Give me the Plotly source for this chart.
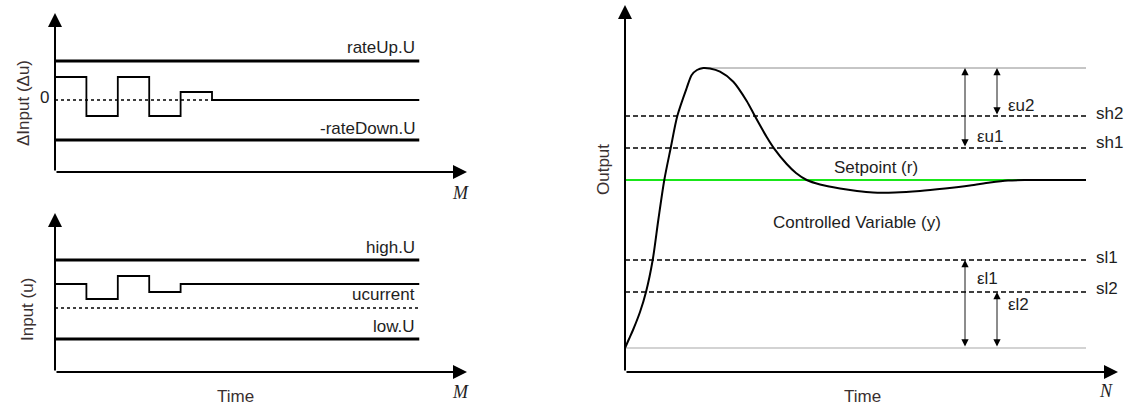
import plotly.graph_objects as go

W, H = 1124, 407

# ---------------- Panel 1: ΔInput (Δu) vs M ----------------
m_steps = [0, 1, 2, 3, 4, 5, 11.6]
du_values = [2.3, -1.6, 2.3, -1.6, 0.8, 0, 0]
rate_up = 3.9
rate_down_neg = -4.0
m_end = 11.6
m_dotted_end = 5
m_axis_max = 13.12
du_range = [-7.2, 8.7]

# ---------------- Panel 2: Input (u) vs M ----------------
u_steps = [0, 1, 2, 3, 4, 11.6]
u_values = [8.8, 7.3, 9.6, 8.0, 8.8, 8.8]
high_u = 11.2
low_u = 3.3
u_current = 6.4
u_range = [0, 15.9]

# ---------------- Panel 3: Output vs N ----------------
t_curve = [0.0, 0.4, 0.8, 1.5, 2.1, 2.77, 3.33, 3.93, 4.57, 5.23, 6.17, 6.67, 7.2, 7.83,
           8.5, 9.5, 10.83, 12.17, 13.0, 14.17, 14.9, 16.17, 17.1, 18.17, 19.5, 21.5,
           23.2, 24.8, 27.0, 29.5, 32.0, 34.5, 36.5, 38.3, 40.0, 46.1]
y_curve = [2.4, 3.3, 4.2, 6.0, 8.0, 11.2, 15.2, 19.2, 22.4, 25.6, 28.4, 29.7, 30.2, 30.4,
           30.35, 30.03, 29.03, 27.1, 25.57, 23.5, 22.37, 20.8, 19.9, 19.2, 18.75, 18.35,
           18.1, 17.95, 17.95, 18.1, 18.35, 18.65, 18.95, 19.15, 19.2, 19.2]
t_end = 46.1
t_peak = 7.8
y_peak = 30.4
y_start = 2.4
setpoint = 19.2
sh2, sh1, sl1, sl2 = 25.6, 22.4, 11.2, 8.0
t_arrow1, t_arrow2 = 34.0, 37.2
t_axis_max = 49.3
out_range = [0, 36.7]


def px(x):
    return x / W


def py(y):
    return 1 - y / H


TXT = dict(family="Liberation Sans, Arial, sans-serif", size=17, color="#1e1e1e")
TITLE = dict(family="Liberation Sans, Arial, sans-serif", size=17, color="#3a3030")
ITAL = dict(family="Liberation Serif, DejaVu Serif, serif", size=18, color="#1e1e1e")

fig = go.Figure()


def hline(x0, x1, y, xa, ya, color="black", width=3, dash="solid"):
    fig.add_trace(go.Scatter(x=[x0, x1], y=[y, y], mode="lines", xaxis=xa, yaxis=ya,
                             line=dict(color=color, width=width, dash=dash),
                             hoverinfo="skip", showlegend=False))


# Panel 1
hline(0, m_end, rate_up, "x", "y")
hline(0, m_end, rate_down_neg, "x", "y")
hline(0, m_dotted_end, 0, "x", "y", width=1.5, dash="dot")
fig.add_trace(go.Scatter(x=m_steps, y=du_values, mode="lines", line_shape="hv",
                         line=dict(color="black", width=1.8), xaxis="x", yaxis="y",
                         hoverinfo="skip", showlegend=False))

# Panel 2
hline(0, m_end, high_u, "x2", "y2")
hline(0, m_end, low_u, "x2", "y2")
hline(0, m_end, u_current, "x2", "y2", width=1.5, dash="dot")
fig.add_trace(go.Scatter(x=u_steps, y=u_values, mode="lines", line_shape="hv",
                         line=dict(color="black", width=1.8), xaxis="x2", yaxis="y2",
                         hoverinfo="skip", showlegend=False))

# Panel 3
hline(t_peak, t_end, y_peak, "x3", "y3", color="#8c8c8c", width=1)
hline(0, t_end, y_start, "x3", "y3", color="#a8a8a8", width=1.2)
for lvl in (sh2, sh1, sl1, sl2):
    hline(0, t_end, lvl, "x3", "y3", width=1.6, dash="5px,3px")
hline(0, t_end, setpoint, "x3", "y3", color="#19e619", width=1.8)
fig.add_trace(go.Scatter(x=t_curve, y=y_curve, mode="lines", line_shape="spline",
                         line=dict(color="black", width=2, smoothing=0.8),
                         xaxis="x3", yaxis="y3", hoverinfo="skip", showlegend=False))

ann = []


def axis_arrow(xr, yr, x, y, ax, ay):
    ann.append(dict(xref=xr, yref=yr, axref=xr, ayref=yr, x=x, y=y, ax=ax, ay=ay,
                    text="", showarrow=True, arrowhead=2, arrowsize=1.4,
                    arrowwidth=2, arrowcolor="black", standoff=0))


axis_arrow("x", "y", 0, du_range[1], 0, du_range[0])
axis_arrow("x", "y", m_axis_max, du_range[0], 0, du_range[0])
axis_arrow("x2", "y2", 0, u_range[1], 0, u_range[0])
axis_arrow("x2", "y2", m_axis_max, u_range[0], 0, u_range[0])
axis_arrow("x3", "y3", 0, out_range[1], 0, out_range[0])
axis_arrow("x3", "y3", t_axis_max, out_range[0], 0, out_range[0])


def dbl_arrow(t, y0, y1):
    ann.append(dict(xref="x3", yref="y3", axref="x3", ayref="y3", x=t, y=y1, ax=t, ay=y0,
                    text="", showarrow=True, arrowhead=2, arrowside="end+start",
                    arrowsize=1.6, arrowwidth=0.9, arrowcolor="black", standoff=0,
                    startstandoff=0))


dbl_arrow(t_arrow1, sh1, y_peak)
dbl_arrow(t_arrow2, sh2, y_peak)
dbl_arrow(t_arrow1, y_start, sl1)
dbl_arrow(t_arrow2, y_start, sl2)


def label(text, x, y, xr, yr, xanchor="left", font=TXT, angle=0):
    ann.append(dict(text=text, x=x, y=y, xref=xr, yref=yr, xanchor=xanchor,
                    yanchor="middle", showarrow=False, font=font, textangle=angle))


# Panel 1 labels
label("rateUp.U", 11.53, 5.2, "x", "y", "right")
label("-rateDown.U", 11.53, -2.8, "x", "y", "right")
label("0", px(44), py(97), "paper", "paper", "center")
label("<i>M</i>", px(460), py(193), "paper", "paper", "center", ITAL)
label("\u0394Input (\u0394u)", px(23), py(103), "paper", "paper", "center", TITLE, -90)

# Panel 2 labels
label("high.U", 11.53, 12.5, "x2", "y2", "right")
label("ucurrent", 11.53, 7.8, "x2", "y2", "right")
label("low.U", 11.53, 4.6, "x2", "y2", "right")
label("Time", px(235), py(396), "paper", "paper", "center", TITLE)
label("<i>M</i>", px(460), py(392), "paper", "paper", "center", ITAL)
label("Input (u)", px(27), py(310), "paper", "paper", "center", TITLE, -90)

# Panel 3 labels
label("sh2", 46.9, 25.9, "x3", "y3")
label("sh1", 46.9, 23.0, "x3", "y3")
label("sl1", 46.9, 11.5, "x3", "y3")
label("sl2", 46.9, 8.4, "x3", "y3")
label("\u03b5u2", 38.1, 26.7, "x3", "y3")
label("\u03b5u1", 35.0, 23.6, "x3", "y3")
label("\u03b5l1", 35.0, 9.4, "x3", "y3")
label("\u03b5l2", 38.1, 6.8, "x3", "y3")
label("Setpoint (r)", 25.1, 20.5, "x3", "y3", "center")
label("Controlled Variable (y)", 23.2, 15.0, "x3", "y3", "center")
label("Time", px(862), py(396), "paper", "paper", "center", TITLE)
label("<i>N</i>", px(1106), py(391), "paper", "paper", "center", ITAL)
label("Output", px(603), py(170), "paper", "paper", "center", TITLE, -90)

hidden = dict(visible=False, fixedrange=True)
fig.update_layout(
    width=W, height=H, autosize=False,
    margin=dict(l=0, r=0, t=0, b=0),
    paper_bgcolor="white", plot_bgcolor="rgba(0,0,0,0)",
    showlegend=False,
    xaxis=dict(domain=[px(55), px(467)], range=[0, m_axis_max], **hidden),
    yaxis=dict(domain=[py(172), py(13)], range=du_range, **hidden),
    xaxis2=dict(domain=[px(55), px(467)], range=[0, m_axis_max], **hidden),
    yaxis2=dict(domain=[py(372), py(213)], range=u_range, **hidden),
    xaxis3=dict(domain=[px(625), px(1118)], range=[0, t_axis_max], **hidden),
    yaxis3=dict(domain=[py(372), py(5)], range=out_range, **hidden),
    annotations=ann,
)

fig.write_html(
    "out.html",
    config={"displayModeBar": False},
    post_script="document.body.style.margin='0';document.body.style.overflow='hidden';",
)
